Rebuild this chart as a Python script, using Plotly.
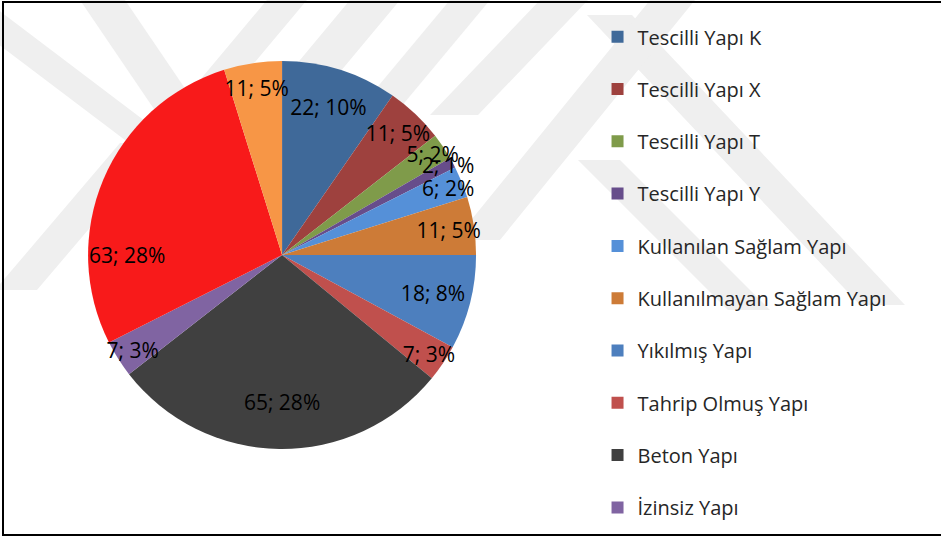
import plotly.graph_objects as go

# slice data, clockwise from 12 o'clock
names = ["Tescilli Yapı K", "Tescilli Yapı X", "Tescilli Yapı T", "Tescilli Yapı Y",
         "Kullanılan Sağlam Yapı", "Kullanılmayan Sağlam Yapı", "Yıkılmış Yapı",
         "Tahrip Olmuş Yapı", "Beton Yapı", "İzinsiz Yapı", "11", "12"]
values = [22, 11, 5, 2, 6, 11, 18, 7, 65, 7, 63, 11]
pct_labels = ["10%", "5%", "2%", "1%", "2%", "5%", "8%", "3%", "28%", "3%", "28%", "5%"]
colors = ["#3F6999", "#9E413E", "#7F9B4A", "#674D8B", "#5590D8", "#CD7B37",
          "#4D7FBE", "#C0504D", "#404040", "#8064A2", "#F81A1A", "#F79646"]
legend_count = 10  # only the first ten names appear in the legend

FONT = "Open Sans"
pie_domain = dict(x=[0.0935, 0.506], y=[0.1655, 0.8866])

fig = go.Figure()

fig.add_trace(go.Pie(
    labels=names, values=values,
    marker=dict(colors=colors, line=dict(width=0)),
    sort=False, direction="clockwise", rotation=0,
    textinfo="none", domain=pie_domain,
    showlegend=False, hoverinfo="label+value+percent",
))

# transparent ring on top so the data labels sit near the outer edge (like Excel)
fig.add_trace(go.Pie(
    labels=names, values=values, text=pct_labels, hole=0.6,
    marker=dict(colors=["rgba(0,0,0,0)"] * len(values), line=dict(width=0)),
    sort=False, direction="clockwise", rotation=0,
    textinfo="text", texttemplate="%{value}; %{text}",
    textposition="inside", insidetextorientation="horizontal",
    textfont=dict(family=FONT, size=21, color="#000000"),
    domain=pie_domain, showlegend=False, hoverinfo="skip",
))

# legend entries as dummy traces
for i in range(legend_count):
    fig.add_trace(go.Scatter(
        x=[None], y=[None], mode="markers", name=names[i],
        legendgroup=str(i),
        marker=dict(symbol="square", size=12, color=colors[i]),
    ))

# background watermark bands (decorative), pixel coords
def band(x1, y1, x2, y2, w):
    W, H = 941, 538
    pts = [(x1, y1), (x1 + w, y1), (x2 + w, y2), (x2, y2)]
    path = "M " + " L ".join(f"{x / W:.4f},{1 - y / H:.4f}" for x, y in pts) + " Z"
    return dict(type="path", xref="paper", yref="paper", path=path,
                fillcolor="#EFEFEF", line=dict(width=0), layer="below")

bands = [
    # "\" bands
    (-60, 0, 125, 140, 45),
    (80, 0, 175, 140, 45),
    (587, 15, 860, 305, 45),
    (578, 160, 728, 310, 42),
    # "/" bands
    (-5, 290, 120, 143, 42),
    (133, 160, 267, 0, 40),
    (250, 120, 350, 0, 50),
    (350, 120, 450, 0, 40),
    (430, 115, 540, 0, 48),
    (455, 240, 650, 0, 45),
]
shapes = [band(*b) for b in bands]
shapes.append(dict(type="rect", xref="paper", yref="paper",
                   x0=3 / 941, x1=1.05, y0=1 - 535 / 538, y1=1 - 2 / 538,
                   line=dict(color="#000000", width=2), fillcolor="rgba(0,0,0,0)",
                   layer="above"))

fig.update_layout(
    width=941, height=538,
    margin=dict(l=0, r=0, t=0, b=0),
    paper_bgcolor="white", plot_bgcolor="white",
    font=dict(family=FONT, size=20, color="#262626"),
    xaxis=dict(visible=False), yaxis=dict(visible=False),
    showlegend=True,
    uniformtext=dict(minsize=21, mode="show"),
    legend=dict(x=0.635, y=0.968, xanchor="left", yanchor="top",
                bgcolor="rgba(0,0,0,0)", tracegroupgap=23.3,
                font=dict(family=FONT, size=20, color="#262626"),
                itemwidth=30),
    shapes=shapes,
)

fig.write_html("out.html", config={"displayModeBar": False},
               post_script="document.body.style.margin='0';")
